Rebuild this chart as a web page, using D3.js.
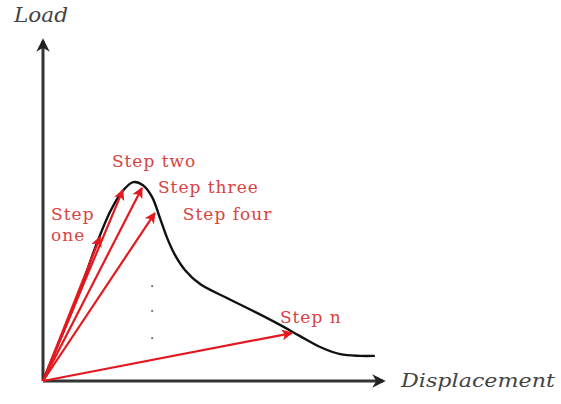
<!DOCTYPE html>
<html>
<head>
<meta charset="utf-8">
<script src="https://cdn.jsdelivr.net/npm/d3@7"></script>
<style>
  body { margin: 0; background: #fff; }
  svg { display: block; }
</style>
</head>
<body>
<svg></svg>
<script>
var svgWidth = 561;
var svgHeight = 404;

// load-displacement curve (arbitrary units 0-100)
var curveX = [0, 5, 10.9, 15.3, 19.7, 23.2, 26.5, 29.4, 32.1, 34.4, 36.5, 38.8, 41.8, 46.2, 54.1, 61.8, 69.7, 75.6, 81.5, 87.4, 93.2, 97.6];
var curveY = [0, 12.1, 26.5, 39.1, 49.7, 55.6, 58.5, 57.6, 54.1, 47.9, 42.1, 37.1, 32.6, 28.5, 24.4, 20.6, 16.5, 13.2, 10, 7.9, 7.4, 7.4];

// secant steps
var stepNames = ['Step one', 'Step two', 'Step three', 'Step four', 'Step n'];
var stepX = [16.8, 23.5, 29.1, 32.9, 73.2];
var stepY = [42.4, 56.2, 56.8, 49.4, 14.1];

// dots between step four and step n
var dotY = [27.9, 20.6, 12.6];
var dotX = 32.1;

var xLabel = 'Displacement';
var yLabel = 'Load';

var origin = { x: 43, y: 381 };
var xScale = d3.scaleLinear().domain([0, 100]).range([origin.x, origin.x + 340]);
var yScale = d3.scaleLinear().domain([0, 100]).range([origin.y, origin.y - 340]);

// label offsets from the arrow tips (px)
var labelOffsets = [[-49, -17], [-11, -23], [16, 5], [28, 7], [-12, -10]];

var red = '#e3191f';
var textRed = '#d9433f';

var svg = d3.select('svg').attr('width', svgWidth).attr('height', svgHeight);
var defs = svg.append('defs');

defs.append('marker')
  .attr('id', 'axisHead')
  .attr('viewBox', '0 0 10 10')
  .attr('refX', 8).attr('refY', 5)
  .attr('markerWidth', 4.5).attr('markerHeight', 4.5)
  .attr('markerUnits', 'strokeWidth')
  .attr('orient', 'auto')
  .append('path')
  .attr('d', 'M0,0 L10,5 L0,10 L3,5 Z')
  .attr('fill', '#222');

defs.append('marker')
  .attr('id', 'redHead')
  .attr('viewBox', '0 0 10 10')
  .attr('refX', 9).attr('refY', 5)
  .attr('markerWidth', 5).attr('markerHeight', 5)
  .attr('markerUnits', 'strokeWidth')
  .attr('orient', 'auto')
  .append('path')
  .attr('d', 'M0,0 L10,5 L0,10 L2.5,5 Z')
  .attr('fill', red);

// axes
svg.append('line')
  .attr('x1', xScale(0)).attr('y1', yScale(0))
  .attr('x2', xScale(0)).attr('y2', yScale(100))
  .attr('stroke', '#333').attr('stroke-width', 3)
  .attr('marker-end', 'url(#axisHead)');

svg.append('line')
  .attr('x1', xScale(0)).attr('y1', yScale(0))
  .attr('x2', xScale(100)).attr('y2', yScale(0))
  .attr('stroke', '#333').attr('stroke-width', 3)
  .attr('marker-end', 'url(#axisHead)');

svg.append('text')
  .text(yLabel)
  .attr('x', 14).attr('y', 22)
  .attr('textLength', 54)
  .attr('lengthAdjust', 'spacingAndGlyphs')
  .style('font-family', 'DejaVu Serif')
  .style('font-style', 'italic')
  .style('font-size', '20px')
  .attr('fill', '#444');

svg.append('text')
  .text(xLabel)
  .attr('x', 401).attr('y', 387)
  .attr('textLength', 154)
  .attr('lengthAdjust', 'spacingAndGlyphs')
  .style('font-family', 'DejaVu Serif')
  .style('font-style', 'italic')
  .style('font-size', '18px')
  .attr('fill', '#444');

// curve
var curveData = curveX.map((d, i) => [d, curveY[i]]);
var line = d3.line()
  .x((d) => xScale(d[0]))
  .y((d) => yScale(d[1]))
  .curve(d3.curveCatmullRom.alpha(0.5));

svg.append('path')
  .datum(curveData)
  .attr('d', line)
  .attr('fill', 'none')
  .attr('stroke', '#111')
  .attr('stroke-width', 2.4);

// step arrows
svg.append('g')
  .selectAll('line')
  .data(stepX)
  .enter()
  .append('line')
  .attr('x1', xScale(0)).attr('y1', yScale(0))
  .attr('x2', (d) => xScale(d))
  .attr('y2', (d, i) => yScale(stepY[i]))
  .attr('stroke', red)
  .attr('stroke-width', 2.2)
  .attr('marker-end', 'url(#redHead)');

// dots
svg.append('g')
  .selectAll('circle')
  .data(dotY)
  .enter()
  .append('circle')
  .attr('cx', xScale(dotX))
  .attr('cy', (d) => yScale(d))
  .attr('r', 1.1)
  .attr('fill', '#777');

// step labels
var labels = svg.append('g')
  .style('font-family', 'DejaVu Serif')
  .style('font-size', '17px')
  .style('letter-spacing', '1px')
  .attr('fill', textRed);

stepNames.forEach(function(name, i) {
  var tx = xScale(stepX[i]) + labelOffsets[i][0];
  var ty = yScale(stepY[i]) + labelOffsets[i][1];
  if (i === 0) {
    var words = name.split(' ');
    labels.append('text').text(words[0]).attr('x', tx).attr('y', ty);
    labels.append('text').text(words[1]).attr('x', tx).attr('y', ty + 21);
  } else {
    labels.append('text').text(name).attr('x', tx).attr('y', ty);
  }
});
</script>
</body>
</html>
